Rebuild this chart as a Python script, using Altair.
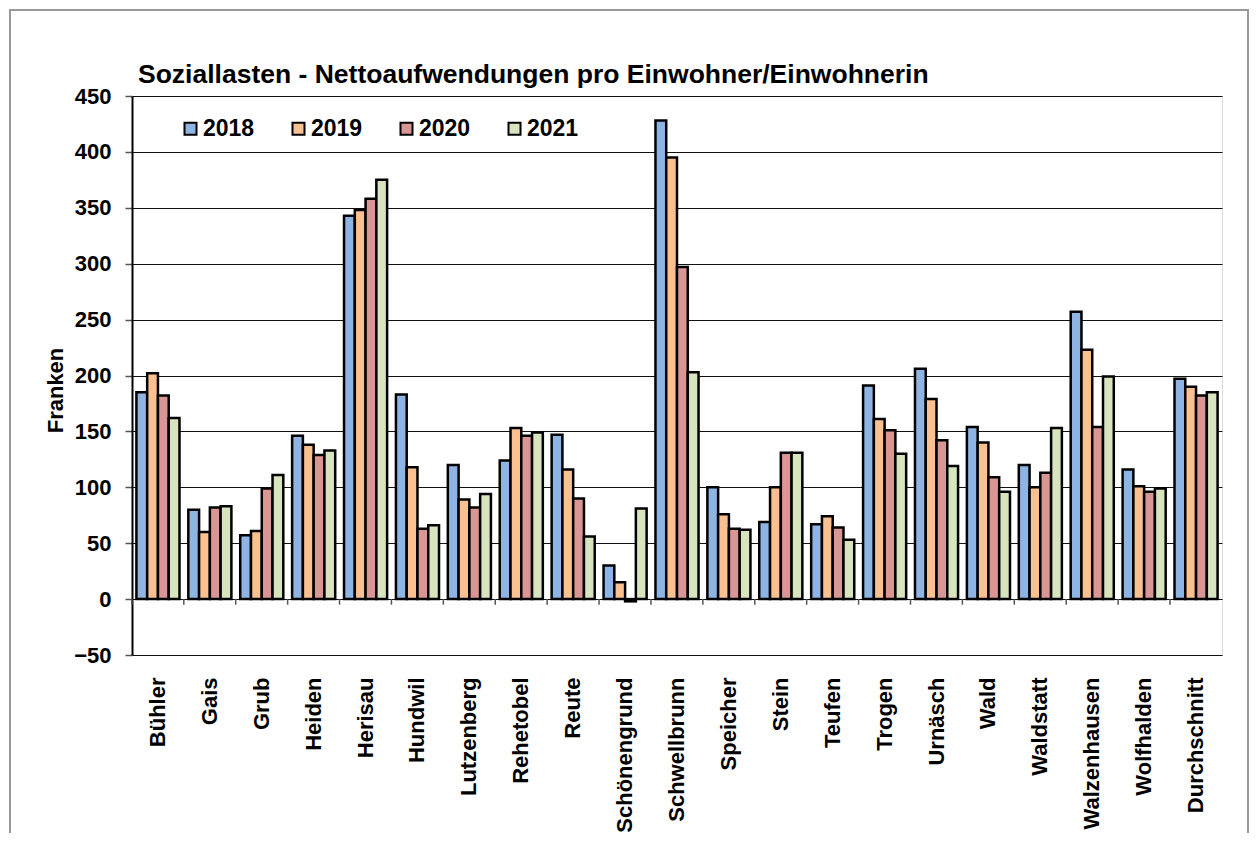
import altair as alt
import pandas as pd

gemeinden = ["Bühler", "Gais", "Grub", "Heiden", "Herisau", "Hundwil", "Lutzenberg",
             "Rehetobel", "Reute", "Schönengrund", "Schwellbrunn", "Speicher", "Stein",
             "Teufen", "Trogen", "Urnäsch", "Wald", "Waldstatt", "Walzenhausen",
             "Wolfhalden", "Durchschnitt"]
years = ["2018", "2019", "2020", "2021"]
v2018 = [185, 80, 57, 146, 343, 183, 120, 124, 147, 30, 428, 100, 69, 67, 191, 206, 154, 120, 257, 116, 197]
v2019 = [202, 60, 61, 138, 348, 118, 89, 153, 116, 15, 395, 76, 100, 74, 161, 179, 140, 100, 223, 101, 190]
v2020 = [182, 82, 99, 129, 358, 63, 82, 146, 90, -2, 297, 63, 131, 64, 151, 142, 109, 113, 154, 96, 182]
v2021 = [162, 83, 111, 133, 375, 66, 94, 149, 56, 81, 203, 62, 131, 53, 130, 119, 96, 153, 199, 99, 185]
colors = ["#8EB4E3", "#FAC090", "#D99694", "#D7E4BD"]
y_ticks = [-50, 0, 50, 100, 150, 200, 250, 300, 350, 400, 450]
title_text = "Soziallasten - Nettoaufwendungen pro Einwohner/Einwohnerin"

rows = []
for yr, vals in zip(years, [v2018, v2019, v2020, v2021]):
    for g, v in zip(gemeinden, vals):
        rows.append({"Gemeinde": g, "Jahr": yr, "Wert": v})
df = pd.DataFrame(rows)
cats = pd.DataFrame({"Gemeinde": gemeinden})
single = pd.DataFrame({"t": [title_text]})

FONT = "Liberation Sans"

xscale = alt.Scale(domain=gemeinden, paddingInner=0.17, paddingOuter=0.085)
yscale = alt.Scale(domain=[-50, 450], nice=False, zero=False)

bars = alt.Chart(df).mark_bar(stroke="black", strokeWidth=2.5).encode(
    x=alt.X("Gemeinde:N", scale=xscale, sort=gemeinden,
            axis=alt.Axis(title=None, labelAngle=-90, labelAlign="right", labelBaseline="middle",
                          labelFontSize=22, labelFont=FONT, labelFontWeight="bold",
                          labelColor="black", labelPadding=22, ticks=False, domain=False,
                          labelLimit=300)),
    xOffset=alt.XOffset("Jahr:N", sort=years, scale=alt.Scale(paddingInner=0, paddingOuter=0)),
    y=alt.Y("Wert:Q", scale=yscale,
            axis=alt.Axis(title="Franken", values=y_ticks, titleFontSize=22, titleFont=FONT,
                          titleFontWeight="bold", titleColor="black", titleX=-77, titleY=294,
                          titleAngle=-90, titleBaseline="middle", titleAlign="center",
                          labelFontSize=22, labelFont=FONT, labelFontWeight="bold",
                          labelColor="black", labelPadding=14, tickSize=7, tickColor="#555",
                          tickWidth=1.5, domainColor="black", domainWidth=2,
                          gridColor="#111", gridWidth=1)),
    color=alt.Color("Jahr:N", scale=alt.Scale(domain=years, range=colors),
                    legend=alt.Legend(title=None, orient="none", legendX=47, legendY=21,
                                      direction="horizontal", symbolType="square",
                                      symbolSize=144, symbolStrokeColor="black",
                                      symbolStrokeWidth=2, labelFontSize=23, labelFont=FONT,
                                      labelFontWeight="bold", labelColor="black",
                                      labelOffset=1, columnPadding=32, padding=0)),
)

zero_ticks = alt.Chart(cats).mark_rule(color="#555", strokeWidth=1.5, xOffset=-4.5).encode(
    x=alt.X("Gemeinde:N", scale=xscale, sort=gemeinden, bandPosition=0),
    y=alt.datum(0),
    y2=alt.datum(-5),
)

frame = alt.Chart(single).mark_rect(fill=None, stroke="#999", strokeWidth=2).encode(
    x=alt.value(-122), x2=alt.value(1116), y=alt.value(-86), y2=alt.value(760)
)

title = alt.Chart(single).mark_text(
    align="left", baseline="alphabetic", fontSize=26.5, font=FONT,
    fontWeight="bold", color="black"
).encode(text="t:N", x=alt.value(6), y=alt.value(-13))

chart = alt.layer(frame, bars, zero_ticks, title).properties(
    width=1090, height=559,
    autosize=alt.AutoSizeParams(type="none"),
    padding={"left": 124, "top": 88, "right": 30, "bottom": 178},
).configure_view(stroke="#999", strokeWidth=2).configure(background="white")

chart.save("out.html", embed_options={"renderer": "svg", "actions": False})
